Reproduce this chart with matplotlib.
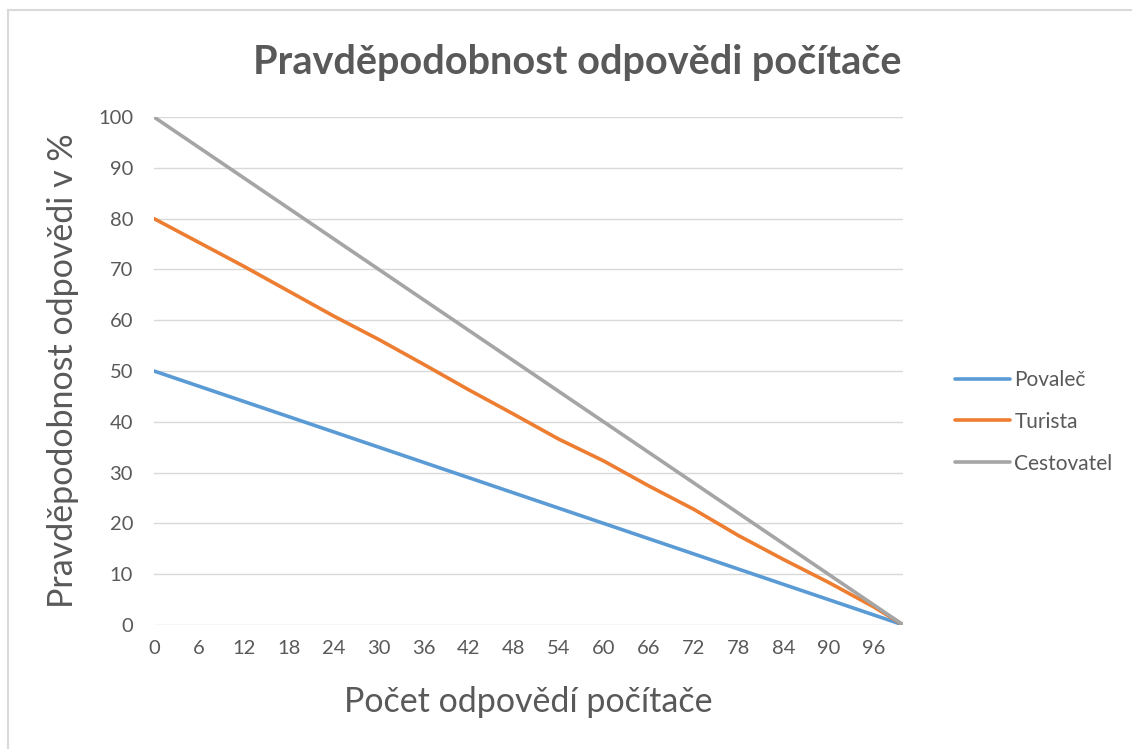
import matplotlib
matplotlib.use("Agg")
import matplotlib.pyplot as plt
from matplotlib.lines import Line2D

plt.rcParams['font.family'] = ['Lato', 'DejaVu Sans']

# pocet odpovedi (x) a odhadnute hodnoty z grafu
pocet = [0, 6, 12, 18, 24, 30, 36, 42, 48, 54, 60, 66, 72, 78, 84, 90, 96, 100]
povalec = [50, 47, 44, 41, 38, 35, 32, 29, 26, 23, 20, 17, 14, 11, 8, 5, 2, 0]
turista = [80, 75.3, 70.6, 65.7, 60.8, 56.2, 51.3, 46.3, 41.5, 36.6, 32.3, 27.4, 22.8, 17.6, 12.9, 8.4, 3.6, 0]
cestovatel = [100, 94, 88, 82, 76, 70, 64, 58, 52, 46, 40, 34, 28, 22, 16, 10, 4, 0]

TEXT = "#595959"

fig = plt.figure(figsize=(11.32, 7.49), dpi=100)
ax = fig.add_axes([0.136, 0.1656, 0.662, 0.6782])

ax.plot(pocet, povalec, color="#5B9BD5", lw=2.6, label="Povaleč", solid_capstyle="round")
ax.plot(pocet, turista, color="#ED7D31", lw=2.6, label="Turista", solid_capstyle="round")
ax.plot(pocet, cestovatel, color="#A5A5A5", lw=2.6, label="Cestovatel", solid_capstyle="round")

ax.set_xlim(0, 100)
ax.set_ylim(0, 100)
ax.set_xticks(range(0, 97, 6))
ax.set_yticks(range(0, 101, 10))
ax.grid(axis="y", color="#d9d9d9", lw=1)
ax.set_axisbelow(True)
for s in ax.spines.values():
    s.set_visible(False)
ax.tick_params(length=0, labelsize=14.5, labelcolor=TEXT)
ax.tick_params(axis="y", pad=15)
ax.tick_params(axis="x", pad=11)

ax.set_ylabel("Pravděpodobnost odpovědi v %", fontsize=24.5, color=TEXT, labelpad=14)
ax.set_xlabel("Počet odpovědí počítače", fontsize=24.5, color=TEXT, labelpad=21)
fig.text(0.51, 0.916, "Pravděpodobnost odpovědi počítače", ha="center", va="center",
         fontsize=28.5, fontweight="bold", color=TEXT)

leg = ax.legend(loc="center left", bbox_to_anchor=(1.069, 0.40), frameon=False,
                fontsize=15, handlelength=2.65, handletextpad=0.2, labelspacing=1.05,
                borderaxespad=0, borderpad=0)
for t in leg.get_texts():
    t.set_color(TEXT)

# ramecek grafu
fig.add_artist(Line2D([0.007, 1.0], [0.986, 0.986], color="#d9d9d9", lw=1.5))
fig.add_artist(Line2D([0.007, 0.007], [0.0, 0.986], color="#d9d9d9", lw=1.5))

fig.savefig("out.png", dpi=100)
